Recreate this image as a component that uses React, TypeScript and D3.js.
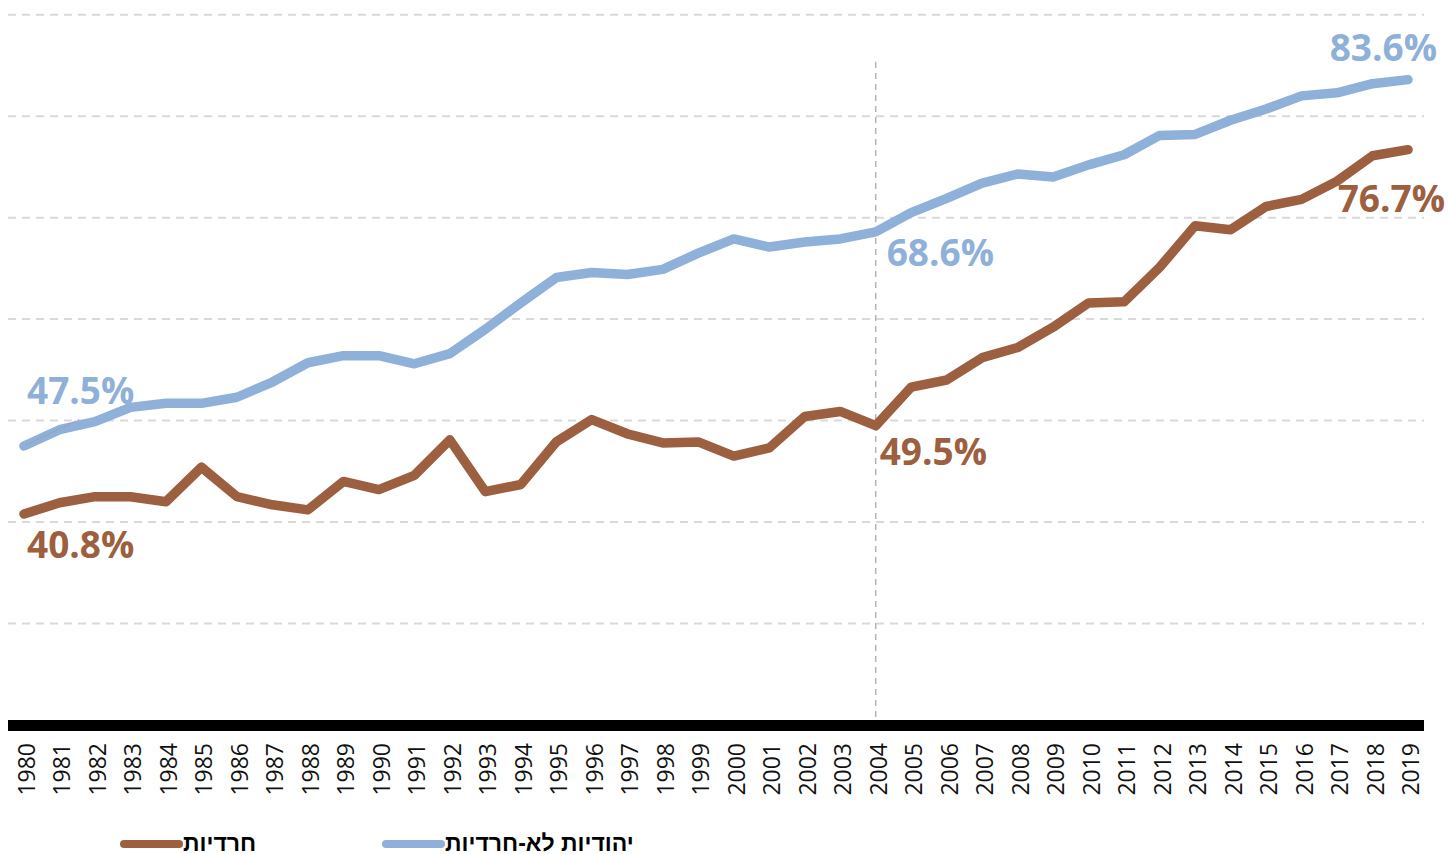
import React from 'react';
import * as d3 from 'd3';

// share of employed women, %, by year
const years = d3.range(1980, 2020);
const haredi = [
  40.8, 41.9, 42.5, 42.5, 42.0, 45.4, 42.5, 41.7, 41.2, 44.0,
  43.2, 44.6, 48.1, 43.0, 43.7, 47.9, 50.1, 48.7, 47.8, 47.9,
  46.5, 47.3, 50.4, 50.9, 49.5, 53.3, 54.0, 56.2, 57.2, 59.2,
  61.6, 61.7, 65.1, 69.2, 68.8, 71.1, 71.8, 73.6, 76.1, 76.7,
];
const nonHaredi = [
  47.5, 49.1, 49.9, 51.3, 51.7, 51.7, 52.3, 53.8, 55.7, 56.4,
  56.4, 55.6, 56.6, 59.0, 61.6, 64.1, 64.6, 64.4, 64.9, 66.5,
  67.9, 67.1, 67.6, 67.9, 68.6, 70.5, 71.9, 73.4, 74.3, 74.0,
  75.2, 76.2, 78.1, 78.2, 79.6, 80.7, 82.0, 82.3, 83.2, 83.6,
];
const gridValues = [30, 40, 50, 60, 70, 80, 90];
const legendNames = ['חרדיות', 'יהודיות לא-חרדיות'];

const BROWN = '#9c6040';
const BLUE = '#8fb0d8';

export default function App() {
  const width = 1448;
  const height = 854;
  const left = 8;
  const right = 1424;

  const x = d3.scalePoint<number>().domain(years).range([24, 1408]);
  const y = d3.scaleLinear().domain([20, 90]).range([725, 14.7]);

  const line = d3
    .line<number>()
    .x((_, i) => x(years[i]) as number)
    .y((d) => y(d));

  const fmt = (v: number) => `${v.toFixed(1)}%`;
  const last = years.length - 1;
  const i2004 = years.indexOf(2004);

  const labelFont = { fontFamily: '"Open Sans", sans-serif', fontWeight: 700, fontSize: 37 };

  return (
    <svg
      width={width}
      height={height}
      style={{ position: 'absolute', left: 0, top: 0, background: '#fff' }}
    >
      {/* grid */}
      {gridValues.map((g) => (
        <line
          key={g}
          x1={left}
          x2={right}
          y1={y(g)}
          y2={y(g)}
          stroke="#d9d9d9"
          strokeWidth={2}
          strokeDasharray="8,6"
        />
      ))}

      {/* 2004 marker */}
      <line
        x1={x(2004)}
        x2={x(2004)}
        y1={62}
        y2={y(20)}
        stroke="#b3b3b3"
        strokeWidth={1.5}
        strokeDasharray="6,5"
      />

      {/* lines */}
      <path d={line(nonHaredi) ?? ''} fill="none" stroke={BLUE} strokeWidth={9.5} strokeLinejoin="round" strokeLinecap="round" />
      <path d={line(haredi) ?? ''} fill="none" stroke={BROWN} strokeWidth={9.5} strokeLinejoin="round" strokeLinecap="round" />

      {/* leader for first label */}
      <line
        x1={(x(1980) as number) + 2}
        y1={y(nonHaredi[0]) - 1}
        x2={80}
        y2={y(nonHaredi[0]) - 27}
        stroke="#999"
        strokeWidth={1}
        strokeDasharray="1.5,1.5"
      />

      {/* axis bar */}
      <rect x={left} y={y(20) - 5} width={right - left} height={11} fill="#000" />

      {/* year ticks */}
      {years.map((yr) => (
        <text
          key={yr}
          transform={`translate(${(x(yr) as number) + 2},${y(20) + 18}) rotate(-90)`}
          textAnchor="end"
          dominantBaseline="central"
          style={{ fontFamily: '"Open Sans", sans-serif', fontSize: 23 }}
          fill="#111"
        >
          {yr}
        </text>
      ))}

      {/* value labels */}
      <text x={(x(1980) as number) + 3} y={y(nonHaredi[0]) - 42} fill={BLUE} style={labelFont}>
        {fmt(nonHaredi[0])}
      </text>
      <text x={(x(1980) as number) + 3} y={y(haredi[0]) + 44} fill={BROWN} style={labelFont}>
        {fmt(haredi[0])}
      </text>
      <text x={(x(2004) as number) + 11} y={y(nonHaredi[i2004]) + 34} fill={BLUE} style={labelFont}>
        {fmt(nonHaredi[i2004])}
      </text>
      <text x={(x(2004) as number) + 4} y={y(haredi[i2004]) + 39} fill={BROWN} style={labelFont}>
        {fmt(haredi[i2004])}
      </text>
      <text x={(x(2019) as number) + 29} y={y(nonHaredi[last]) - 19} textAnchor="end" fill={BLUE} style={labelFont}>
        {fmt(nonHaredi[last])}
      </text>
      <text x={(x(2019) as number) + 37} y={y(haredi[last]) + 62} textAnchor="end" fill={BROWN} style={labelFont}>
        {fmt(haredi[last])}
      </text>

      {/* legend */}
      {[
        { name: legendNames[0], color: BROWN, x0: 124 },
        { name: legendNames[1], color: BLUE, x0: 386 },
      ].map((d) => (
        <g key={d.name}>
          <line x1={d.x0} x2={d.x0 + 55} y1={844} y2={844} stroke={d.color} strokeWidth={8} strokeLinecap="round" />
          <text
            x={d.x0 + 59}
            y={851}
            style={{ fontFamily: '"Liberation Sans", Arial, sans-serif', fontWeight: 700, fontSize: 23 }}
            fill="#000"
          >
            {d.name}
          </text>
        </g>
      ))}
    </svg>
  );
}
